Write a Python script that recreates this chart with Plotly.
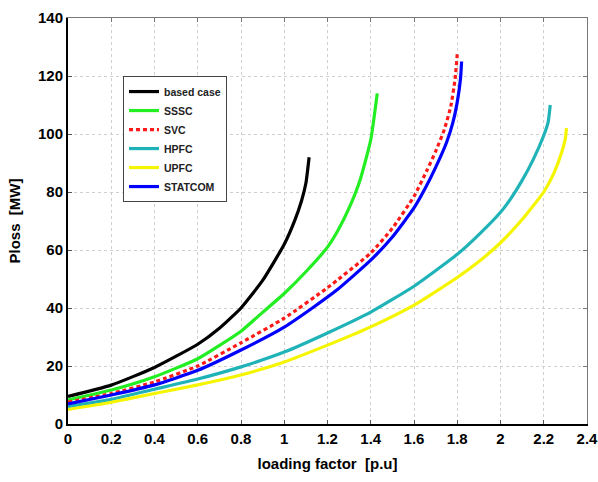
import plotly.graph_objects as go

# ---- data ----
base_x = [0, 0.2, 0.4, 0.6, 0.7, 0.8, 0.9, 1.0, 1.05, 1.08, 1.1, 1.115]
base_y = [9.5, 13.4, 19.5, 27.5, 33, 40, 49.5, 62, 70.5, 77, 83, 92]

sssc_x = [0, 0.2, 0.4, 0.6, 0.8, 0.9, 1.0, 1.1, 1.2, 1.25, 1.3, 1.35, 1.4, 1.43]
sssc_y = [8.3, 11.7, 16.3, 22.5, 32, 38.5, 45, 52.5, 61, 67, 74.5, 84, 98, 114]

svc_x = [0, 0.2, 0.4, 0.6, 0.8, 1.0, 1.2, 1.4, 1.5, 1.6, 1.66, 1.7, 1.74, 1.77, 1.79, 1.8]
svc_y = [7.5, 10.5, 14.5, 20, 28, 36.5, 47, 59, 67.5, 78.5, 87.5, 94, 101.5, 109.5, 119, 127.5]

hpfc_x = [0, 0.2, 0.4, 0.6, 0.8, 1.0, 1.2, 1.4, 1.6, 1.8, 1.9, 2.0, 2.05, 2.1, 2.15, 2.2, 2.22, 2.23]
hpfc_y = [6, 8.5, 12, 15.5, 19.7, 24.8, 31.4, 38.6, 47.5, 58.5, 65.3, 73, 78, 84, 91, 99.5, 104, 110]

upfc_x = [0, 0.2, 0.4, 0.6, 0.8, 1.0, 1.2, 1.4, 1.6, 1.8, 1.9, 2.0, 2.1, 2.2, 2.25, 2.28, 2.3, 2.305]
upfc_y = [5, 7.5, 10.5, 13.5, 16.9, 21.4, 27.2, 33.5, 41, 50.5, 56, 62.5, 70.5, 80, 87, 93, 98.5, 102]

statcom_x = [0, 0.2, 0.4, 0.6, 0.8, 1.0, 1.13, 1.24, 1.4, 1.5, 1.6, 1.65, 1.7, 1.75, 1.78, 1.8, 1.815, 1.82]
statcom_y = [6.9, 10, 13.5, 18.5, 25.5, 33.4, 40, 46, 56.5, 64.5, 74.5, 81, 88.5, 97, 104, 111, 119, 125]

x_ticks = [0, 0.2, 0.4, 0.6, 0.8, 1, 1.2, 1.4, 1.6, 1.8, 2, 2.2, 2.4]
x_tick_text = ["0", "0.2", "0.4", "0.6", "0.8", "1", "1.2", "1.4", "1.6", "1.8", "2", "2.2", "2.4"]
y_ticks = [0, 20, 40, 60, 80, 100, 120, 140]

series = [
    ("based case", base_x, base_y, "#000000", "solid"),
    ("SSSC", sssc_x, sssc_y, "#22ee22", "solid"),
    ("SVC", svc_x, svc_y, "#ff1a1a", "4px,3px"),
    ("HPFC", hpfc_x, hpfc_y, "#1fb3b8", "solid"),
    ("UPFC", upfc_x, upfc_y, "#f5f500", "solid"),
    ("STATCOM", statcom_x, statcom_y, "#0000ff", "solid"),
]

FONT = "Liberation Sans"

fig = go.Figure()
for name, xs, ys, col, dash in series:
    fig.add_trace(go.Scatter(x=xs, y=ys, mode="lines", name=name,
                             line=dict(color=col, width=3.2, dash=dash, shape="spline", smoothing=0.5)))

# empty trace that carries the mirrored top/right frame axes
fig.add_trace(go.Scatter(x=[], y=[], xaxis="x2", yaxis="y2", showlegend=False, hoverinfo="skip"))

fig.update_layout(
    width=598, height=482,
    margin=dict(l=68, r=11, t=18, b=58),
    paper_bgcolor="white", plot_bgcolor="white",
    font=dict(family=FONT, color="black"),
    xaxis=dict(range=[0, 2.4], tickvals=x_ticks, ticktext=x_tick_text, automargin=False,
               ticklabeloverflow="allow",
               showgrid=True, gridcolor="#cfcfcf", griddash="dot", gridwidth=1,
               zeroline=False, showline=True, linecolor="black", linewidth=2,
               ticks="inside", ticklen=4, tickcolor="#555555",
               tickfont=dict(family=FONT, size=15, color="black", weight="bold"),
               title=dict(text="<b>loading factor  [p.u]</b>", font=dict(family=FONT, size=15), standoff=12)),
    yaxis=dict(range=[0, 140], tickvals=y_ticks, automargin=False,
               ticklabeloverflow="allow",
               showgrid=True, gridcolor="#cfcfcf", griddash="dot", gridwidth=1,
               zeroline=False, showline=True, linecolor="black", linewidth=2,
               ticks="inside", ticklen=4, tickcolor="#555555",
               tickfont=dict(family=FONT, size=15, color="black", weight="bold"),
               title=dict(text="<b>Ploss  [MW]</b>", font=dict(family=FONT, size=15), standoff=14)),
    xaxis2=dict(range=[0, 2.4], overlaying="x", side="top", tickvals=x_ticks, automargin=False,
                showticklabels=False, showgrid=False, zeroline=False,
                showline=True, linecolor="#777777", linewidth=1,
                ticks="inside", ticklen=4, tickcolor="#777777"),
    yaxis2=dict(range=[0, 140], overlaying="y", side="right", tickvals=y_ticks, automargin=False,
                showticklabels=False, showgrid=False, zeroline=False,
                showline=True, linecolor="#777777", linewidth=1,
                ticks="inside", ticklen=4, tickcolor="#777777"),
    legend=dict(x=0.106, y=0.857, xanchor="left", yanchor="top",
                bgcolor="white", bordercolor="#444444", borderwidth=1,
                font=dict(family=FONT, size=10.5, color="#222222", weight="bold"),
                tracegroupgap=0, itemwidth=30),
    showlegend=True,
)

# remove the default 8px page margin so the 598x482 figure fills the window exactly
fig.write_html("out.html",
               config={"displayModeBar": False},
               post_script="document.body.style.margin='0';document.body.style.overflow='hidden';")
